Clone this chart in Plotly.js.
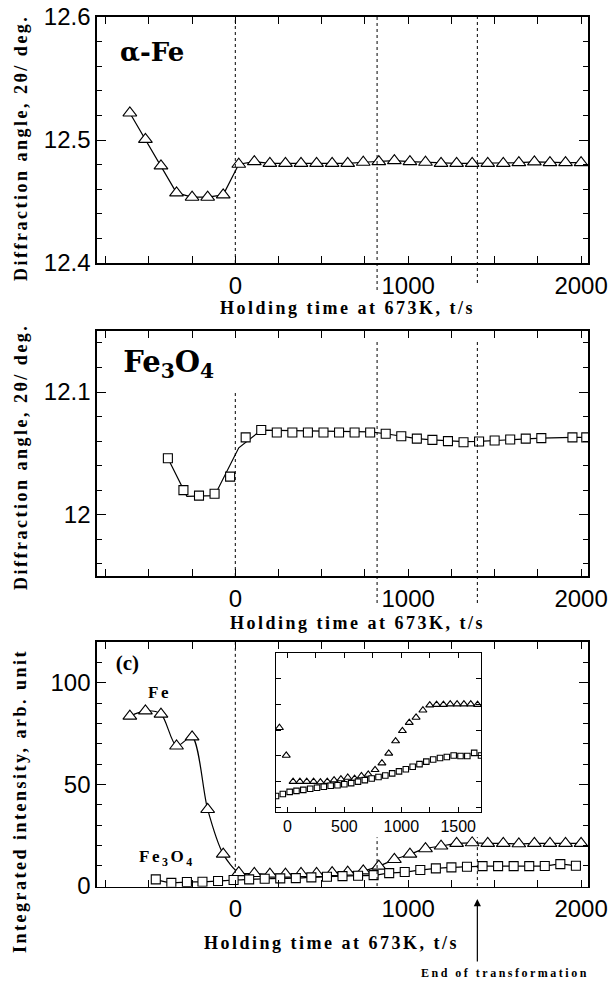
<!DOCTYPE html>
<html>
<head>
<meta charset="utf-8">
<script src="https://cdn.plot.ly/plotly-3.0.1.min.js"></script>
<style>
  html, body { margin: 0; padding: 0; background: #fff; }
  #chart { width: 608px; height: 982px; }
  .annotation-text { letter-spacing: 2.5px; }
  g.annotation[data-index="0"] text,
  g.annotation[data-index="1"] text,
  g.annotation[data-index="2"] text { letter-spacing: 0px; }
</style>
</head>
<body>
<div id="chart"></div>
<script>
// ---------- data ----------
// Panel (a): alpha-Fe diffraction angle
const feTime = [-610,-520,-430,-340,-250,-160,-70,20,110,200,290,380,470,560,650,740,830,920,1010,1100,1190,1280,1370,1460,1550,1640,1730,1820,1910,2000];
const feAngle = [12.522,12.5005,12.479,12.457,12.4535,12.4535,12.4554,12.4803,12.4824,12.481,12.481,12.481,12.481,12.481,12.481,12.4819,12.4824,12.4832,12.4824,12.4819,12.481,12.481,12.481,12.481,12.481,12.4816,12.4822,12.4816,12.4816,12.4816];

// Panel (b): Fe3O4 diffraction angle (markers) and fitted line
const oxTime = [-390,-300,-210,-120,-30,60,150,240,330,420,510,600,690,780,870,960,1050,1140,1230,1320,1410,1500,1590,1680,1770,1950,2030];
const oxAngle = [12.046,12.020,12.0155,12.017,12.031,12.063,12.069,12.067,12.067,12.067,12.067,12.067,12.067,12.067,12.066,12.064,12.062,12.061,12.060,12.059,12.0597,12.0605,12.0613,12.062,12.0624,12.063,12.063];
const oxFitTime = [-390,-280,-120,20,150,780,870,960,1050,1140,1230,1320,1410,1500,1590,1680,1770,1950,2040];
const oxFitAngle = [12.046,12.015,12.0155,12.0545,12.069,12.0675,12.066,12.064,12.062,12.061,12.060,12.0595,12.0598,12.0605,12.0613,12.062,12.0624,12.063,12.063];

// Panel (c): integrated intensity
const feIntTime = feTime;
const feInt = [83.6,86.2,84.6,68.9,73.4,37.7,15.7,6.6,6.2,5.9,5.9,6.2,6.2,6.6,6.9,7.5,9.8,13.1,15.7,18.4,19.7,21.0,21.3,21.0,21.0,20.8,21.0,21.0,21.0,21.0];
const oxIntTime = [-460,-370,-280,-190,-100,-10,80,170,260,350,440,530,620,710,800,890,980,1070,1160,1250,1340,1430,1520,1610,1700,1790,1880,1970];
const oxInt = [3.3,1.6,2.0,2.1,2.5,3.0,3.3,3.6,3.8,3.9,4.3,4.6,4.9,5.1,5.4,6.4,6.9,7.9,8.7,9.2,9.5,9.8,9.8,9.8,9.8,9.9,10.8,10.0];

// Inset of panel (c)
const insFeTime = [-70,-10,50,110,170,230,290,350,410,470,530,590,650,710,770,830,890,950,1010,1070,1130,1190,1250,1310,1370,1430,1490,1550,1610,1670];
const insFeInt = [15.5,10.1,5.0,5.0,5.0,5.0,4.9,5.0,5.3,5.5,5.8,5.6,6.1,6.4,7.3,8.6,10.5,12.9,14.9,16.5,17.5,18.9,19.9,20.0,20.0,20.1,20.1,20.1,20.1,20.0];
const insOxTime = [-100,-40,20,80,140,200,260,320,380,440,500,560,620,680,740,800,860,920,980,1040,1100,1160,1220,1280,1340,1400,1460,1520,1580,1640,1700];
const insOxInt = [2.2,2.6,3.0,3.2,3.4,3.6,3.8,4.0,4.2,4.3,4.5,4.7,5.0,5.3,5.6,5.9,6.2,6.6,7.0,7.4,7.9,8.4,8.9,9.3,9.6,9.8,10.1,10.0,10.0,10.6,10.1];

// Reference times (start of holding, intermediate, end of transformation)
const markTimes = [0, 820, 1400];

// ---------- layout helpers ----------
const W = 608, H = 982;
const px = x => x / W;
const py = y => 1 - y / H;
const SERIF = 'Liberation Serif, Times New Roman, serif';
const SANS = 'Liberation Sans, Arial, sans-serif';

function xAxis(dom, anchor) {
  return {
    domain: dom, anchor: anchor, range: [-800, 2040],
    dtick: 1000, tick0: 0,
    ticks: 'inside', ticklen: 7, tickwidth: 1, tickcolor: '#000',
    minor: {dtick: 250, tick0: 0, ticks: 'inside', ticklen: 7, tickwidth: 1, tickcolor: '#000', showgrid: false},
    showline: true, linewidth: 1.7, linecolor: '#000', mirror: 'ticks',
    showgrid: false, zeroline: false,
    tickfont: {family: SANS, size: 24, color: '#000'}, fixedrange: true
  };
}
function yAxis(dom, anchor, range, dtick, minor) {
  return {
    domain: dom, anchor: anchor, range: range, dtick: dtick, tick0: 0,
    ticks: 'inside', ticklen: 9, tickwidth: 1, tickcolor: '#000',
    minor: {dtick: minor, tick0: 0, ticks: 'inside', ticklen: 5, tickwidth: 1, tickcolor: '#000', showgrid: false},
    showline: true, linewidth: 1.7, linecolor: '#000', mirror: 'ticks',
    showgrid: false, zeroline: false,
    tickfont: {family: SANS, size: 24, color: '#000'}, fixedrange: true
  };
}

const xd = [px(97), px(588)];
const tri = (size) => ({symbol: 'triangle-up', size: size, color: '#fff', line: {color: '#000', width: 1.1}});
const sq = (size) => ({symbol: 'square', size: size, color: '#fff', line: {color: '#000', width: 1.1}});
const ln = {color: '#000', width: 1.2};

const traces = [
  {x: feTime, y: feAngle, xaxis: 'x', yaxis: 'y', mode: 'lines+markers', line: ln, marker: tri(12)},
  {x: oxFitTime, y: oxFitAngle, xaxis: 'x2', yaxis: 'y2', mode: 'lines', line: ln},
  {x: oxTime, y: oxAngle, xaxis: 'x2', yaxis: 'y2', mode: 'markers', marker: sq(9)},
  {x: feIntTime, y: feInt, xaxis: 'x3', yaxis: 'y3', mode: 'lines+markers', line: Object.assign({shape: 'spline', smoothing: 0.8}, ln), marker: tri(12)},
  {x: oxIntTime, y: oxInt, xaxis: 'x3', yaxis: 'y3', mode: 'lines+markers', line: Object.assign({shape: 'spline', smoothing: 0.8}, ln), marker: sq(9)},
  {x: insFeTime, y: insFeInt, xaxis: 'x4', yaxis: 'y4', mode: 'markers', marker: tri(7)},
  {x: insOxTime, y: insOxInt, xaxis: 'x4', yaxis: 'y4', mode: 'markers', marker: sq(5.5)}
];

const dash = {color: '#000', width: 1, dash: '3px,3px'};
const shapes = [
  // panel a
  {type: 'line', xref: 'x', yref: 'paper', x0: markTimes[0], x1: markTimes[0], y0: py(263), y1: py(17), line: dash},
  {type: 'line', xref: 'x', yref: 'paper', x0: markTimes[1], x1: markTimes[1], y0: py(290), y1: py(17), line: dash},
  {type: 'line', xref: 'x', yref: 'paper', x0: markTimes[2], x1: markTimes[2], y0: py(283), y1: py(17), line: dash},
  // panel b
  {type: 'line', xref: 'x2', yref: 'paper', x0: markTimes[0], x1: markTimes[0], y0: py(576), y1: py(390), line: dash},
  {type: 'line', xref: 'x2', yref: 'paper', x0: markTimes[1], x1: markTimes[1], y0: py(603), y1: py(342), line: dash},
  {type: 'line', xref: 'x2', yref: 'paper', x0: markTimes[2], x1: markTimes[2], y0: py(603), y1: py(342), line: dash},
  // panel c
  {type: 'line', xref: 'x3', yref: 'y3', x0: markTimes[0], x1: markTimes[0], y0: 6.5, y1: 120, line: dash},
  {type: 'line', xref: 'x3', yref: 'y3', x0: markTimes[1], x1: markTimes[1], y0: 0, y1: 24, line: dash},
  {type: 'line', xref: 'x3', yref: 'y3', x0: markTimes[2], x1: markTimes[2], y0: 0, y1: 24, line: dash}
];

const ann = (text, x, y, size, opts) => Object.assign({
  text: text, xref: 'paper', yref: 'paper', x: px(x), y: py(y),
  xanchor: 'center', yanchor: 'middle', showarrow: false,
  font: {family: SERIF, size: size, color: '#000', weight: 'bold'}
}, opts || {});

const annotations = [
  ann('α-Fe', 113, 52, 26, {xanchor: 'left', font: {family: 'DejaVu Serif, serif', size: 26, color: '#000', weight: 'bold'}}),
  ann('Fe<sub>3</sub>O<sub>4</sub>', 115, 364, 29, {xanchor: 'left', font: {family: 'DejaVu Serif, serif', size: 29, color: '#000', weight: 'bold'}}),
  ann('(c)', 127, 663, 21),
  ann('Fe', 159, 692, 17),
  ann('Fe<sub>3</sub>O<sub>4</sub>', 167, 858, 17),
  ann('Holding time at 673K, t/s', 348, 308, 18),
  ann('Holding time at 673K, t/s', 357, 623, 18),
  ann('Holding time at 673K, t/s', 331, 943, 18),
  ann('Diffraction angle, 2θ/ deg.', 21, 148, 18, {textangle: -90}),
  ann('Diffraction angle, 2θ/ deg.', 21, 457, 18, {textangle: -90}),
  ann('Integrated intensity, arb. unit', 20, 801, 18, {textangle: -90}),
  ann('End of transformation', 505, 973, 12),
  {text: '', xref: 'x3', yref: 'paper', x: markTimes[2], y: py(899), showarrow: true,
   ax: 0, ay: 64, arrowhead: 2, arrowsize: 1.2, arrowwidth: 1.2, arrowcolor: '#000'}
];

const layout = {
  width: W, height: H,
  margin: {l: 0, r: 0, t: 0, b: 0},
  paper_bgcolor: '#fff', plot_bgcolor: '#fff',
  showlegend: false,
  xaxis: xAxis(xd, 'y'),
  yaxis: yAxis([py(263), py(17)], 'x', [12.4, 12.6], 0.1, 0.02),
  xaxis2: xAxis(xd, 'y2'),
  yaxis2: yAxis([py(576), py(330.7)], 'x2', [11.95, 12.15], 0.1, 0.02),
  xaxis3: xAxis(xd, 'y3'),
  yaxis3: yAxis([py(886.7), py(641.7)], 'x3', [-0.3, 120.2], 50, 10),
  xaxis4: {
    domain: [px(276), px(481)], anchor: 'y4', range: [-100, 1700],
    dtick: 500, tick0: 0,
    ticks: 'inside', ticklen: 5, tickwidth: 1, tickcolor: '#000',
    minor: {dtick: 250, tick0: 0, ticks: 'inside', ticklen: 5, tickwidth: 1, tickcolor: '#000', showgrid: false},
    showline: true, linewidth: 1.2, linecolor: '#000', mirror: 'ticks',
    showgrid: false, zeroline: false,
    tickfont: {family: SANS, size: 16, color: '#000'}, fixedrange: true
  },
  yaxis4: {
    domain: [py(811.7), py(653.3)], anchor: 'x4', range: [-0.86, 30],
    dtick: 5, tick0: 0, showticklabels: false,
    ticks: 'inside', ticklen: 5, tickwidth: 1, tickcolor: '#000',
    showline: true, linewidth: 1.2, linecolor: '#000', mirror: 'ticks',
    showgrid: false, zeroline: false, fixedrange: true
  },
  shapes: shapes,
  annotations: annotations
};

Plotly.newPlot('chart', traces, layout, {staticPlot: true, displayModeBar: false});
</script>
</body>
</html>
